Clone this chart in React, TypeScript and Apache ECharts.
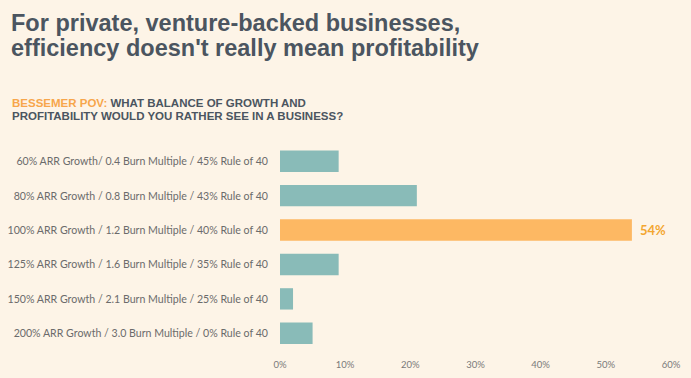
import React, { useEffect, useRef } from "react";
import * as echarts from "echarts";

const categories = [
  "60% ARR Growth/ 0.4 Burn Multiple / 45% Rule of 40",
  "80% ARR Growth / 0.8 Burn Multiple / 43% Rule of 40",
  "100% ARR Growth / 1.2 Burn Multiple / 40% Rule of 40",
  "125% ARR Growth / 1.6 Burn Multiple / 35% Rule of 40",
  "150% ARR Growth / 2.1 Burn Multiple / 25% Rule of 40",
  "200% ARR Growth / 3.0 Burn Multiple / 0% Rule of 40",
];
const values = [9, 21, 54, 9, 2, 5];
const highlightIndex = 2;
const xTicks = { min: 0, max: 60, interval: 10 };

const TEAL = "#89bbb8";
const ORANGE = "#fdb863";
const BG = "#fdf4e7";
const HEAD_FONT = "Liberation Sans";

export default function App() {
  const ref = useRef<HTMLDivElement>(null);
  useEffect(() => {
    document.body.style.margin = "0";
    document.body.style.background = BG;
    const chart = echarts.init(ref.current!, undefined, { renderer: "svg" });
    chart.setOption({
      animation: false,
      backgroundColor: BG,
      textStyle: { fontFamily: "Lato" },
      title: [
        {
          text: "For private, venture-backed businesses,\nefficiency doesn't really mean profitability",
          left: 11,
          top: 10,
          padding: 0,
          textStyle: {
            fontFamily: HEAD_FONT,
            fontSize: 23.5,
            fontWeight: "bold",
            lineHeight: 25,
            color: "#4b5560",
          },
        },
        {
          text: "{a|BESSEMER POV:}{b| WHAT BALANCE OF GROWTH AND}\n{b|PROFITABILITY WOULD YOU RATHER SEE IN A BUSINESS?}",
          left: 12,
          top: 97,
          padding: 0,
          textStyle: {
            fontFamily: HEAD_FONT,
            fontSize: 11.5,
            fontWeight: "bold",
            lineHeight: 12.8,
            color: "#4b5560",
            rich: {
              a: { fontFamily: HEAD_FONT, fontSize: 11.5, fontWeight: "bold", color: "#f7a64b", lineHeight: 12.8 },
              b: { fontFamily: HEAD_FONT, fontSize: 11.5, fontWeight: "bold", color: "#4b5560", lineHeight: 12.8 },
            },
          },
        },
      ],
      grid: {
        left: 280,
        right: 20,
        top: 144,
        bottom: 27.5,
        containLabel: false,
        outerBoundsMode: "none",
      },
      xAxis: {
        type: "value",
        min: xTicks.min,
        max: xTicks.max,
        interval: xTicks.interval,
        axisLine: { show: false },
        axisTick: { show: false },
        splitLine: { show: false },
        axisLabel: {
          formatter: "{value}%",
          color: "#7a7a7a",
          fontSize: 9.5,
          margin: 9,
          fontFamily: "Lato",
        },
      },
      yAxis: {
        type: "category",
        data: categories,
        inverse: true,
        axisLine: { show: false },
        axisTick: { show: false },
        axisLabel: { color: "#6b6b6b", fontSize: 10.6, margin: 12, fontFamily: "Lato" },
      },
      series: [
        {
          type: "bar",
          barCategoryGap: "38%",
          data: values.map((v, i) =>
            i === highlightIndex
              ? {
                  value: v,
                  itemStyle: { color: ORANGE },
                  label: {
                    show: true,
                    position: "right",
                    distance: 8,
                    formatter: "{c}%",
                    color: "#f3a630",
                    fontSize: 13,
                    fontWeight: "bold",
                    fontFamily: "Lato",
                  },
                }
              : { value: v, itemStyle: { color: TEAL } }
          ),
        },
      ],
    });
    return () => chart.dispose();
  }, []);
  return <div ref={ref} style={{ width: 691, height: 378 }} />;
}
